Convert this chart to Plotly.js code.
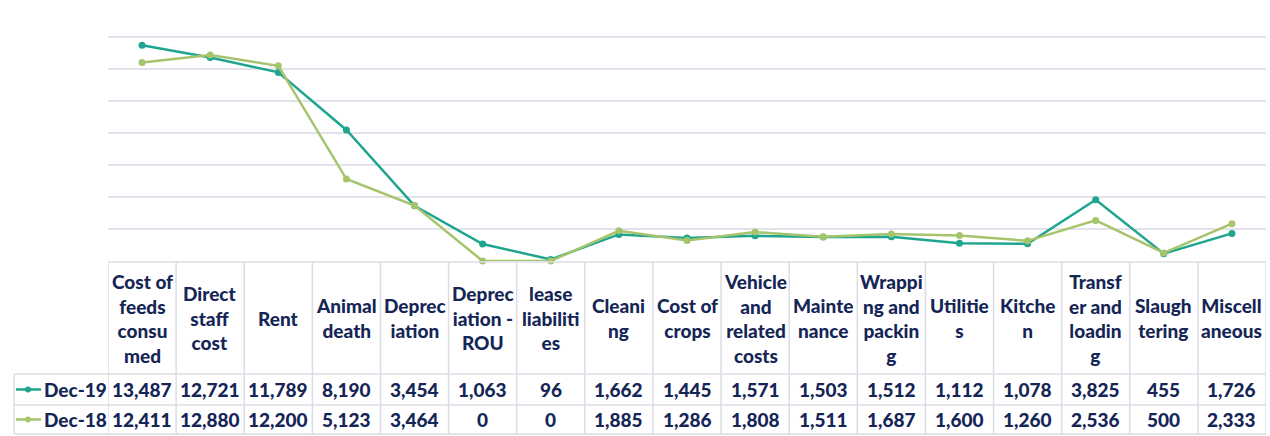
<!DOCTYPE html>
<html>
<head>
<meta charset="utf-8">
<script src="https://cdn.plot.ly/plotly-3.0.1.min.js"></script>
<style>html,body{margin:0;padding:0;background:#fff;}#chart{width:1270px;height:436px;}</style>
</head>
<body>
<div id="chart"></div>
<script>
var categories = ["Cost of<br>feeds<br>consu<br>med","Direct<br>staff<br>cost","Rent","Animal<br>death","Deprec<br>iation","Deprec<br>iation -<br>ROU","lease<br>liabiliti<br>es","Cleani<br>ng","Cost of<br>crops","Vehicle<br>and<br>related<br>costs","Mainte<br>nance","Wrappi<br>ng and<br>packin<br>g","Utilitie<br>s","Kitche<br>n","Transf<br>er and<br>loadin<br>g","Slaugh<br>tering","Miscell<br>aneous"];
var seriesNames = ["Dec-19","Dec-18"];
var dec19 = [13487,12721,11789,8190,3454,1063,96,1662,1445,1571,1503,1512,1112,1078,3825,455,1726];
var dec18 = [12411,12880,12200,5123,3464,0,0,1885,1286,1808,1511,1687,1600,1260,2536,500,2333];
var colors = ["#1fa58f","#a6c46c"];

var W = 1270, H = 436, L = 108, R = 4, T = 5, B = 175;
var pw = W - L - R, ph = H - T - B;
function px(x){ return (x - L) / pw; }
function py(y){ return (H - B - y) / ph; }

var idx = categories.map(function(_, i){ return i; });
var traces = [dec19, dec18].map(function(vals, k){
  return {x: idx, y: vals, type: 'scatter', mode: 'lines+markers', name: seriesNames[k],
    line: {color: colors[k], width: 2.5}, marker: {color: colors[k], size: 7}, cliponaxis: false, hoverinfo: 'none'};
});

var txtColor = '#152656';
var fnt = {family: 'Lato, "Open Sans", sans-serif', size: 19, color: txtColor, weight: 900};
var border = '#dcdce6';
var shapes = [], annotations = [];
var headTop = 262, r1Top = 374, r2Top = 405, bot = 434;
for (var i = 0; i <= categories.length; i++) {
  shapes.push({type: 'line', xref: 'x', yref: 'paper', x0: i - 0.5, x1: i - 0.5, y0: py(headTop), y1: py(bot), line: {color: border, width: 1.5}});
}
shapes.push({type: 'line', xref: 'paper', yref: 'paper', x0: px(14), x1: px(14), y0: py(r1Top), y1: py(bot), line: {color: border, width: 1.5}});
[r1Top, r2Top, bot].forEach(function(y){
  shapes.push({type: 'line', xref: 'paper', yref: 'paper', x0: px(14), x1: 1, y0: py(y), y1: py(y), line: {color: border, width: 1.5}});
});
shapes.push({type: 'line', xref: 'paper', yref: 'paper', x0: 0, x1: 1, y0: py(headTop), y1: py(headTop), line: {color: border, width: 1.5}});

var rowCenters = [(r1Top + r2Top) / 2, (r2Top + bot) / 2];
categories.forEach(function(c, i){
  annotations.push({xref: 'x', yref: 'paper', x: i, y: py((headTop + r1Top) / 2), text: c, showarrow: false, font: fnt, xanchor: 'center', yanchor: 'middle', align: 'center'});
});
[dec19, dec18].forEach(function(vals, k){
  var yc = rowCenters[k];
  vals.forEach(function(v, i){
    annotations.push({xref: 'x', yref: 'paper', x: i, y: py(yc), text: v.toLocaleString('en-US'), showarrow: false, font: fnt, xanchor: 'center', yanchor: 'middle'});
  });
  annotations.push({xref: 'paper', yref: 'paper', x: px(42), y: py(yc), text: seriesNames[k], showarrow: false, font: fnt, xanchor: 'left', yanchor: 'middle'});
  shapes.push({type: 'line', xref: 'paper', yref: 'paper', x0: px(16), x1: px(41), y0: py(yc), y1: py(yc), line: {color: colors[k], width: 2.5}});
  shapes.push({type: 'circle', xref: 'paper', yref: 'paper', x0: px(25), x1: px(31), y0: py(yc - 3), y1: py(yc + 3), fillcolor: colors[k], line: {color: colors[k], width: 0}});
});

var layout = {
  width: W, height: H,
  margin: {l: L, r: R, t: T, b: B, pad: 0},
  paper_bgcolor: '#ffffff', plot_bgcolor: '#ffffff',
  showlegend: false,
  xaxis: {range: [-0.5, categories.length - 0.5], showticklabels: false, showgrid: false, zeroline: false, ticks: '', fixedrange: true},
  yaxis: {range: [0, 16000], dtick: 2000, showticklabels: false, showgrid: true, gridcolor: '#e2e2ec', gridwidth: 1.5, zeroline: false, ticks: '', fixedrange: true},
  shapes: shapes,
  annotations: annotations,
  font: {family: 'Lato, sans-serif'}
};
Plotly.newPlot('chart', traces, layout, {staticPlot: true, displayModeBar: false});
</script>
</body>
</html>
